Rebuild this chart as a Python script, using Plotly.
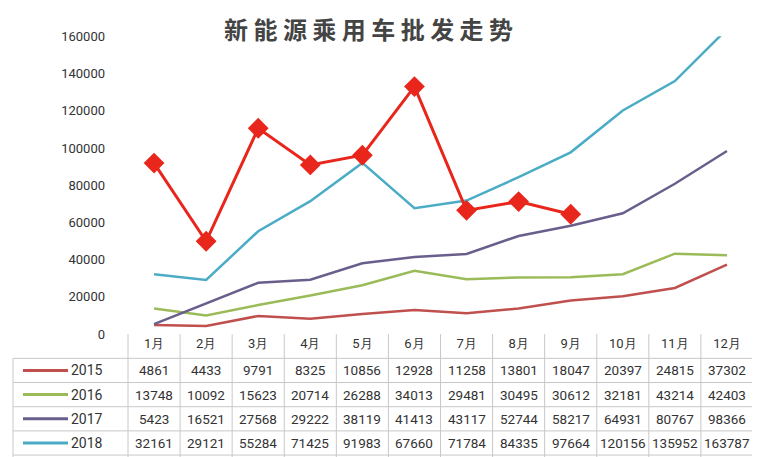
import plotly.graph_objects as go

W, H = 760, 457
months = [f"{i}月" for i in range(1, 13)]
years = ["2015", "2016", "2017", "2018", "2019"]
colors = ["#c0504d", "#9bbb59", "#6a5f8c", "#4bacc6", "#e8261c"]
s2015 = [4861, 4433, 9791, 8325, 10856, 12928, 11258, 13801, 18047, 20397, 24815, 37302]
s2016 = [13748, 10092, 15623, 20714, 26288, 34013, 29481, 30495, 30612, 32181, 43214, 42403]
s2017 = [5423, 16521, 27568, 29222, 38119, 41413, 43117, 52744, 58217, 64931, 80767, 98366]
s2018 = [32161, 29121, 55284, 71425, 91983, 67660, 71784, 84335, 97664, 120156, 135952, 163787]
s2019 = [91900, 49900, 110600, 90900, 96100, 133000, 66500, 71200, 64400]
table_text = [
    [str(v) for v in s2015],
    [str(v) for v in s2016],
    [str(v) for v in s2017],
    [str(v) for v in s2018],
]

x0, x1 = 120, 745      # plot area, px
ytop, ybot = 22, 330
colw = (x1 - x0) / 12
fnt = "Roboto"

def px(x): return x / W
def py(y): return 1 - y / H

fig = go.Figure()
for name, vals, c in zip(years[:4], [s2015, s2016, s2017, s2018], colors[:4]):
    fig.add_trace(go.Scatter(x=months, y=vals, mode="lines", line=dict(color=c, width=2.5), name=name))
fig.add_trace(go.Scatter(x=months[:9], y=s2019, mode="lines+markers", name="2019",
                         line=dict(color=colors[4], width=3),
                         marker=dict(symbol="diamond", size=16, color=colors[4])))

shapes, ann = [], []
row_y = [330, 355, 380, 405, 430, 455, 480]
for y in row_y[1:6]:
    shapes.append(dict(type="line", xref="paper", yref="paper", x0=px(5), x1=px(x1), y0=py(y), y1=py(y),
                       line=dict(color="#c8c8c8", width=1)))
for i in range(13):
    xx = x0 + i * colw
    shapes.append(dict(type="line", xref="paper", yref="paper", x0=px(xx), x1=px(xx), y0=py(330), y1=py(457),
                       line=dict(color="#c8c8c8", width=1)))
shapes.append(dict(type="line", xref="paper", yref="paper", x0=px(5), x1=px(5), y0=py(355), y1=py(457),
                   line=dict(color="#c8c8c8", width=1)))
for r, (yr, c) in enumerate(zip(years, colors)):
    if r == 4:
        shapes.append(dict(type="line", xref="paper", yref="paper", x0=px(15), x1=px(60), y0=py(459), y1=py(459),
                           line=dict(color=c, width=3)))
        continue
    yc = (row_y[r + 1] + row_y[r + 2]) / 2
    shapes.append(dict(type="line", xref="paper", yref="paper", x0=px(15), x1=px(60), y0=py(yc), y1=py(yc),
                       line=dict(color=c, width=3)))
    ann.append(dict(x=px(61), y=py(yc), xref="paper", yref="paper", text=yr, showarrow=False, xanchor="left",
                    yanchor="middle", font=dict(size=14, color="#333", family=fnt)))
    for j, t in enumerate(table_text[r]):
        ann.append(dict(x=px(x0 + (j + 0.5) * colw), y=py(yc), xref="paper", yref="paper", text=t,
                        showarrow=False, xanchor="center", yanchor="middle",
                        font=dict(size=13.5, color="#333", family=fnt)))
ann.append(dict(x=px(360), y=py(14), xref="paper", yref="paper", text="<b>新 能 源 乘 用 车 批 发 走 势</b>",
                showarrow=False, xanchor="center", yanchor="middle",
                font=dict(size=24, color="#444", family="Noto Sans CJK SC")))

fig.update_layout(
    width=W, height=H, margin=dict(l=0, r=0, t=0, b=0),
    paper_bgcolor="white", plot_bgcolor="white", showlegend=False,
    font=dict(family=fnt, color="#333"),
    shapes=shapes, annotations=ann,
    xaxis=dict(domain=[px(x0), px(x1)], ticks="", showgrid=False, tickfont=dict(size=13),
               showline=False, range=[-0.5, 11.5]),
    yaxis=dict(domain=[py(ybot), py(ytop)], range=[0, 160000], dtick=20000, showgrid=False,
               tickformat="d", tickfont=dict(size=13), ticklabelstandoff=22, zeroline=False),
)
fig.write_html("out.html")
